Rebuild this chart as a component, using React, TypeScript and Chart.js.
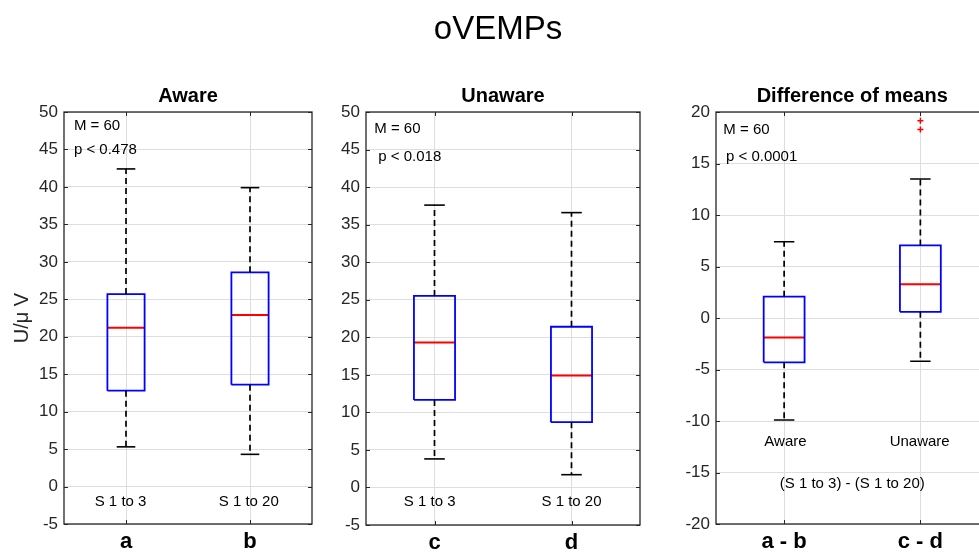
import React, { useEffect, useRef } from "react";
import { Chart, registerables } from "chart.js";

Chart.register(...registerables);

// ---------- data ----------
const mainTitle = "oVEMPs";
const yAxisLabel = "U/\u03bc V";

// Panel 1: Aware
const awareTitle = "Aware";
const awareTicks = ["a", "b"];
const awareGroups = ["S 1 to 3", "S 1 to 20"];
const awareWhiskerHigh = [42.4, 39.9];
const awareQ3 = [25.7, 28.6];
const awareMedian = [21.2, 22.9];
const awareQ1 = [12.8, 13.6];
const awareWhiskerLow = [5.3, 4.3];
const awareOutliers: number[][] = [[], []];
const awareNotes = ["M = 60", "p < 0.478"];

// Panel 2: Unaware
const unawareTitle = "Unaware";
const unawareTicks = ["c", "d"];
const unawareGroups = ["S 1 to 3", "S 1 to 20"];
const unawareWhiskerHigh = [37.6, 36.6];
const unawareQ3 = [25.5, 21.4];
const unawareMedian = [19.3, 14.9];
const unawareQ1 = [11.65, 8.7];
const unawareWhiskerLow = [3.8, 1.7];
const unawareOutliers: number[][] = [[], []];
const unawareNotes = ["M = 60", "p < 0.018"];

// Panel 3: Difference of means
const diffTitle = "Difference of means";
const diffTicks = ["a - b", "c - d"];
const diffGroups = ["Aware", "Unaware"];
const diffWhiskerHigh = [7.4, 13.5];
const diffQ3 = [2.07, 7.05];
const diffMedian = [-1.9, 3.27];
const diffQ1 = [-4.3, 0.6];
const diffWhiskerLow = [-9.9, -4.2];
const diffOutliers: number[][] = [[], [19.15, 18.3]];
const diffNotes = ["M = 60", "p < 0.0001"];
const diffCaption = "(S 1 to 3) - (S 1 to 20)";

// ---------- styles ----------
const FONT = "'Liberation Sans', Arial, Helvetica, sans-serif";
const AXIS = "#262626";
const GRID = "#dedede";
const BLUE = "#0000ff";
const RED = "#ff0000";
const BLACK = "#000000";
const BOX_HALF = 0.15;
const CAP_HALF = 0.075;

type Panel = {
  left: number;
  width: number;
  yAxisWidth: number;
  padRight: number;
  padTop: number;
  xAxisHeight: number;
  yMin: number;
  yMax: number;
  title: string;
  ticks: string[];
  groups: string[];
  hi: number[];
  q3: number[];
  med: number[];
  q1: number[];
  lo: number[];
  out: number[][];
  notes: string[];
  noteX: number[];
  noteY: number[];
  groupX: number[];
  groupY: number;
  caption?: string;
  captionY?: number;
  yLabel?: boolean;
  mainTitle?: boolean;
};

const panels: Panel[] = [
  {
    left: 0, width: 330, yAxisWidth: 64, padRight: 18, padTop: 112, xAxisHeight: 30,
    yMin: -5, yMax: 50, title: awareTitle, ticks: awareTicks, groups: awareGroups,
    hi: awareWhiskerHigh, q3: awareQ3, med: awareMedian, q1: awareQ1, lo: awareWhiskerLow,
    out: awareOutliers, notes: awareNotes, noteX: [0.58, 0.58], noteY: [48.1, 44.9],
    groupX: [0.956, 1.99], groupY: -2.0, yLabel: true,
  },
  {
    left: 330, width: 330, yAxisWidth: 36, padRight: 20, padTop: 112, xAxisHeight: 29,
    yMin: -5, yMax: 50, title: unawareTitle, ticks: unawareTicks, groups: unawareGroups,
    hi: unawareWhiskerHigh, q3: unawareQ3, med: unawareMedian, q1: unawareQ1, lo: unawareWhiskerLow,
    out: unawareOutliers, notes: unawareNotes, noteX: [0.56, 0.59], noteY: [47.8, 44.05],
    groupX: [0.965, 2.0], groupY: -1.9, mainTitle: true,
  },
  {
    left: 660, width: 340, yAxisWidth: 56, padRight: 11.5, padTop: 112, xAxisHeight: 30,
    yMin: -20, yMax: 20, title: diffTitle, ticks: diffTicks, groups: diffGroups,
    hi: diffWhiskerHigh, q3: diffQ3, med: diffMedian, q1: diffQ1, lo: diffWhiskerLow,
    out: diffOutliers, notes: diffNotes, noteX: [0.554, 0.573], noteY: [18.3, 15.66],
    groupX: [1.01, 1.995], groupY: -12.0, caption: diffCaption, captionY: -16.15,
  },
];

function seg(data: { x: number; y: number }[], color: string, width: number, dash: number[] = []) {
  return {
    data,
    showLine: true,
    borderColor: color,
    backgroundColor: color,
    borderWidth: width,
    borderDash: dash,
    borderCapStyle: "butt",
    borderJoinStyle: "miter",
    pointRadius: 0,
    pointHoverRadius: 0,
    fill: false,
    tension: 0,
  };
}

function boxDatasets(p: Panel) {
  const ds: any[] = [];
  p.q1.forEach((_, i) => {
    const c = i + 1;
    ds.push(seg([{ x: c, y: p.q3[i] }, { x: c, y: p.hi[i] }], BLACK, 1.7, [6, 4]));
    ds.push(seg([{ x: c, y: p.q1[i] }, { x: c, y: p.lo[i] }], BLACK, 1.7, [6, 4]));
    ds.push(seg([{ x: c - CAP_HALF, y: p.hi[i] }, { x: c + CAP_HALF, y: p.hi[i] }], BLACK, 1.6));
    ds.push(seg([{ x: c - CAP_HALF, y: p.lo[i] }, { x: c + CAP_HALF, y: p.lo[i] }], BLACK, 1.6));
    ds.push(
      seg(
        [
          { x: c - BOX_HALF, y: p.q1[i] },
          { x: c + BOX_HALF, y: p.q1[i] },
          { x: c + BOX_HALF, y: p.q3[i] },
          { x: c - BOX_HALF, y: p.q3[i] },
          { x: c - BOX_HALF, y: p.q1[i] },
        ],
        BLUE,
        1.8
      )
    );
    ds.push(seg([{ x: c - BOX_HALF, y: p.med[i] }, { x: c + BOX_HALF, y: p.med[i] }], RED, 2));
    if (p.out[i].length) {
      ds.push({
        data: p.out[i].map((v) => ({ x: c, y: v })),
        showLine: false,
        pointStyle: "cross",
        pointRadius: 3,
        pointHoverRadius: 3,
        borderColor: RED,
        borderWidth: 1.5,
      });
    }
  });
  return ds;
}

function decorPlugin(p: Panel) {
  return {
    id: "decor",
    afterDraw(chart: any) {
      const { ctx, chartArea: a, scales } = chart;
      const x = scales.x;
      const y = scales.y;
      ctx.save();
      // inside tick marks
      ctx.strokeStyle = AXIS;
      ctx.lineWidth = 1;
      ctx.beginPath();
      y.ticks.forEach((t: any) => {
        const py = Math.round(y.getPixelForValue(t.value)) + 0.5;
        ctx.moveTo(a.left, py);
        ctx.lineTo(a.left + 4, py);
        ctx.moveTo(a.right, py);
        ctx.lineTo(a.right - 4, py);
      });
      x.ticks.forEach((t: any) => {
        const px = Math.round(x.getPixelForValue(t.value)) + 0.5;
        ctx.moveTo(px, a.bottom);
        ctx.lineTo(px, a.bottom - 4);
        ctx.moveTo(px, a.top);
        ctx.lineTo(px, a.top + 4);
      });
      ctx.stroke();
      // axes box
      ctx.lineWidth = 1.3;
      ctx.strokeRect(a.left, a.top, a.right - a.left, a.bottom - a.top);

      // panel title
      ctx.fillStyle = BLACK;
      ctx.font = `bold 20px ${FONT}`;
      ctx.textAlign = "center";
      ctx.textBaseline = "alphabetic";
      ctx.fillText(p.title, (a.left + a.right) / 2, a.top - 10);

      // notes
      ctx.font = `15px ${FONT}`;
      ctx.fillStyle = BLACK;
      ctx.textAlign = "left";
      ctx.textBaseline = "middle";
      p.notes.forEach((n, i) => {
        ctx.fillText(n, x.getPixelForValue(p.noteX[i]), y.getPixelForValue(p.noteY[i]));
      });

      // group labels inside plot
      ctx.font = `15px ${FONT}`;
      ctx.textAlign = "center";
      p.groups.forEach((g, i) => {
        ctx.fillText(g, x.getPixelForValue(p.groupX[i]), y.getPixelForValue(p.groupY));
      });
      if (p.caption && p.captionY !== undefined) {
        ctx.fillText(p.caption, x.getPixelForValue(1.5), y.getPixelForValue(p.captionY));
      }

      // y axis label
      if (p.yLabel) {
        ctx.save();
        ctx.translate(22.5, (a.top + a.bottom) / 2);
        ctx.rotate(-Math.PI / 2);
        ctx.font = `20px ${FONT}`;
        ctx.fillStyle = AXIS;
        ctx.textAlign = "center";
        ctx.textBaseline = "middle";
        ctx.fillText(yAxisLabel, 0, 0);
        ctx.restore();
      }

      // main figure title
      if (p.mainTitle) {
        ctx.font = `33px ${FONT}`;
        ctx.fillStyle = BLACK;
        ctx.textAlign = "center";
        ctx.textBaseline = "alphabetic";
        ctx.fillText(mainTitle, 498 - p.left, 39);
      }
      ctx.restore();
    },
  };
}

function PanelChart({ p }: { p: Panel }) {
  const ref = useRef<HTMLCanvasElement | null>(null);
  useEffect(() => {
    if (!ref.current) return;
    const chart = new Chart(ref.current, {
      type: "scatter",
      data: { datasets: boxDatasets(p) },
      options: {
        responsive: false,
        maintainAspectRatio: false,
        animation: false,
        events: [],
        layout: { padding: { left: 0, right: p.padRight, top: p.padTop, bottom: 0 } },
        plugins: {
          legend: { display: false },
          tooltip: { enabled: false },
          title: { display: false },
        },
        scales: {
          x: {
            type: "linear",
            min: 0.5,
            max: 2.5,
            afterBuildTicks: (s: any) => {
              s.ticks = p.ticks.map((_, i) => ({ value: i + 1 }));
            },
            afterFit: (s: any) => {
              s.height = p.xAxisHeight;
            },
            ticks: {
              autoSkip: false,
              maxRotation: 0,
              padding: 5,
              color: BLACK,
              font: { family: FONT, size: 22, weight: "bold" },
              callback: (v: any) => p.ticks[Math.round(Number(v)) - 1] ?? "",
            },
            grid: { color: GRID, lineWidth: 1, drawTicks: false },
            border: { display: false },
          },
          y: {
            type: "linear",
            min: p.yMin,
            max: p.yMax,
            afterFit: (s: any) => {
              s.width = p.yAxisWidth;
            },
            ticks: {
              stepSize: 5,
              padding: 6,
              color: AXIS,
              font: { family: FONT, size: 17 },
            },
            grid: { color: GRID, lineWidth: 1, drawTicks: false },
            border: { display: false },
          },
        },
      } as any,
      plugins: [decorPlugin(p)],
    });
    return () => chart.destroy();
  }, [p]);
  return (
    <canvas
      ref={ref}
      width={p.width}
      height={554}
      style={{ position: "absolute", left: p.left, top: 0, width: p.width, height: 554, display: "block" }}
    />
  );
}

export default function App() {
  return (
    <div
      style={{
        position: "fixed",
        left: 0,
        top: 0,
        width: 979,
        height: 554,
        overflow: "hidden",
        background: "#ffffff",
      }}
    >
      {panels.map((p, i) => (
        <PanelChart key={i} p={p} />
      ))}
    </div>
  );
}
